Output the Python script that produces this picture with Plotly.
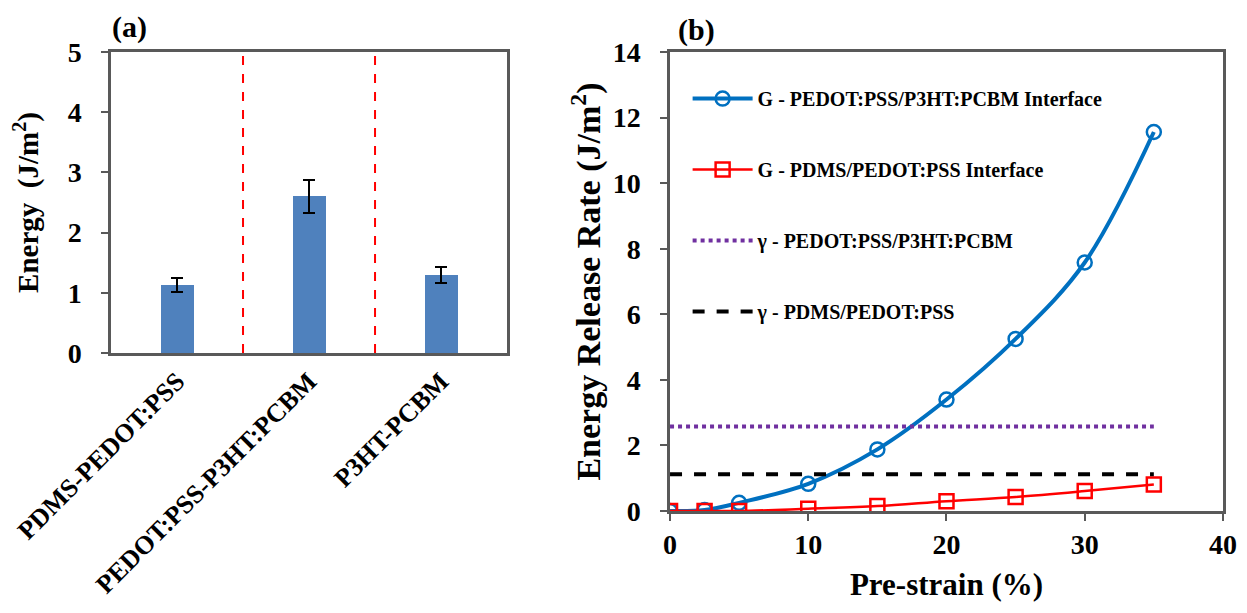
import plotly.graph_objects as go

# ---- Panel (a) data ----
categories = ["PDMS-PEDOT:PSS", "PEDOT:PSS-P3HT:PCBM", "P3HT-PCBM"]
energy = [1.13, 2.60, 1.30]
energy_err = [0.12, 0.27, 0.13]

# ---- Panel (b) data ----
prestrain = [0, 2.5, 5, 10, 15, 20, 25, 30, 35]
g_pedot_p3ht = [0.0, 0.03, 0.25, 0.83, 1.88, 3.40, 5.25, 7.58, 11.56]
g_pdms_pedot = [0.0, 0.0, 0.0, 0.07, 0.15, 0.30, 0.43, 0.61, 0.81]
gamma_x = [0, 35]
gamma_pedot_p3ht = [2.58, 2.58]
gamma_pdms_pedot = [1.12, 1.12]

FONT = "Liberation Serif"
AX = "#595959"

fig = go.Figure()

fig.add_trace(go.Bar(
    x=categories, y=energy, width=0.25,
    marker=dict(color="#4F81BD", line=dict(width=0)),
    error_y=dict(type="data", array=energy_err, color="black", thickness=2, width=6),
    xaxis="x", yaxis="y", showlegend=False,
))

fig.add_trace(go.Scatter(
    x=prestrain, y=g_pedot_p3ht, mode="lines+markers",
    name="G - PEDOT:PSS/P3HT:PCBM Interface",
    line=dict(color="#0070C0", width=4, shape="spline"),
    marker=dict(symbol="circle-open", size=14, line=dict(width=2.5, color="#0070C0")),
    xaxis="x2", yaxis="y2", legendgroup="a",
))
fig.add_trace(go.Scatter(
    x=prestrain, y=g_pdms_pedot, mode="lines+markers",
    name="G - PDMS/PEDOT:PSS Interface",
    line=dict(color="#FF0000", width=2.5, shape="spline"),
    marker=dict(symbol="square-open", size=14, line=dict(width=2.5, color="#FF0000")),
    xaxis="x2", yaxis="y2", legendgroup="b",
))
fig.add_trace(go.Scatter(
    x=gamma_x, y=gamma_pedot_p3ht, mode="lines",
    name="γ - PEDOT:PSS/P3HT:PCBM",
    line=dict(color="#7030A0", width=4, dash="dot"),
    xaxis="x2", yaxis="y2", legendgroup="c",
))
fig.add_trace(go.Scatter(
    x=gamma_x, y=gamma_pdms_pedot, mode="lines",
    name="γ - PDMS/PEDOT:PSS",
    line=dict(color="black", width=4, dash="dash"),
    xaxis="x2", yaxis="y2", legendgroup="d",
))

# separators in panel (a)
for xs in [0.5, 1.5]:
    fig.add_shape(type="line", xref="x", yref="y", x0=xs, x1=xs, y0=0, y1=5,
                  line=dict(color="#FF0000", width=2, dash="dash"))

tickfont = dict(family=FONT, size=28, color="black", weight="bold")

fig.update_layout(
    width=1247, height=613,
    margin=dict(l=0, r=0, t=0, b=0),
    paper_bgcolor="white", plot_bgcolor="white",
    font=dict(family=FONT, color="black"),
    xaxis=dict(domain=[0.0826, 0.4002], anchor="y", range=[-0.5, 2.5],
               showline=True, linecolor=AX, linewidth=2.5, mirror=True,
               ticks="", tickangle=-45, automargin=False,
               tickfont=dict(family=FONT, size=26, color="black", weight="bold"),
               showgrid=False, zeroline=False),
    yaxis=dict(domain=[0.4372, 0.9282], anchor="x", range=[0, 5], dtick=1,
               showline=True, linecolor=AX, linewidth=2.5, mirror=True,
               ticks="outside", ticklen=7, tickwidth=2, tickcolor=AX,
               ticklabelstandoff=14,
               tickfont=tickfont, showgrid=False, zeroline=False, automargin=False,
               title=dict(text="<b>Energy  (J/m<sup>2</sup>)</b>",
                          font=dict(family=FONT, size=29), standoff=24)),
    xaxis2=dict(domain=[0.5309, 0.9743], anchor="y2", range=[0, 40], dtick=10,
                showline=True, linecolor=AX, linewidth=2.5, mirror=True,
                ticks="outside", ticklen=7, tickwidth=2, tickcolor=AX,
                tickfont=tickfont, showgrid=False, zeroline=False, automargin=False,
                title=dict(text="<b>Pre-strain (%)</b>",
                           font=dict(family=FONT, size=31), standoff=14)),
    yaxis2=dict(domain=[0.1794, 0.9282], anchor="x2", range=[0, 14], dtick=2,
                showline=True, linecolor=AX, linewidth=2.5, mirror=True,
                ticks="outside", ticklen=7, tickwidth=2, tickcolor=AX,
                ticklabelstandoff=14,
                tickfont=tickfont, showgrid=False, zeroline=False, automargin=False,
                title=dict(text="<b>Energy Release Rate (J/m<sup>2</sup>)</b>",
                           font=dict(family=FONT, size=34), standoff=2)),
    legend=dict(x=0.545, y=0.884, xanchor="left", yanchor="top",
                bgcolor="rgba(0,0,0,0)", borderwidth=0,
                font=dict(family=FONT, size=20, color="black", weight="bold"),
                tracegroupgap=42, itemwidth=60),
    bargap=0,
)

fig.add_annotation(text="<b>(a)</b>", xref="paper", yref="paper",
                   x=0.0978, y=0.969, xanchor="center", yanchor="middle",
                   showarrow=False,
                   font=dict(family=FONT, size=30, color="black"))
fig.add_annotation(text="<b>(b)</b>", xref="paper", yref="paper",
                   x=0.5525, y=0.964, xanchor="center", yanchor="middle",
                   showarrow=False,
                   font=dict(family=FONT, size=30, color="black"))

fig.write_html("out.html")
